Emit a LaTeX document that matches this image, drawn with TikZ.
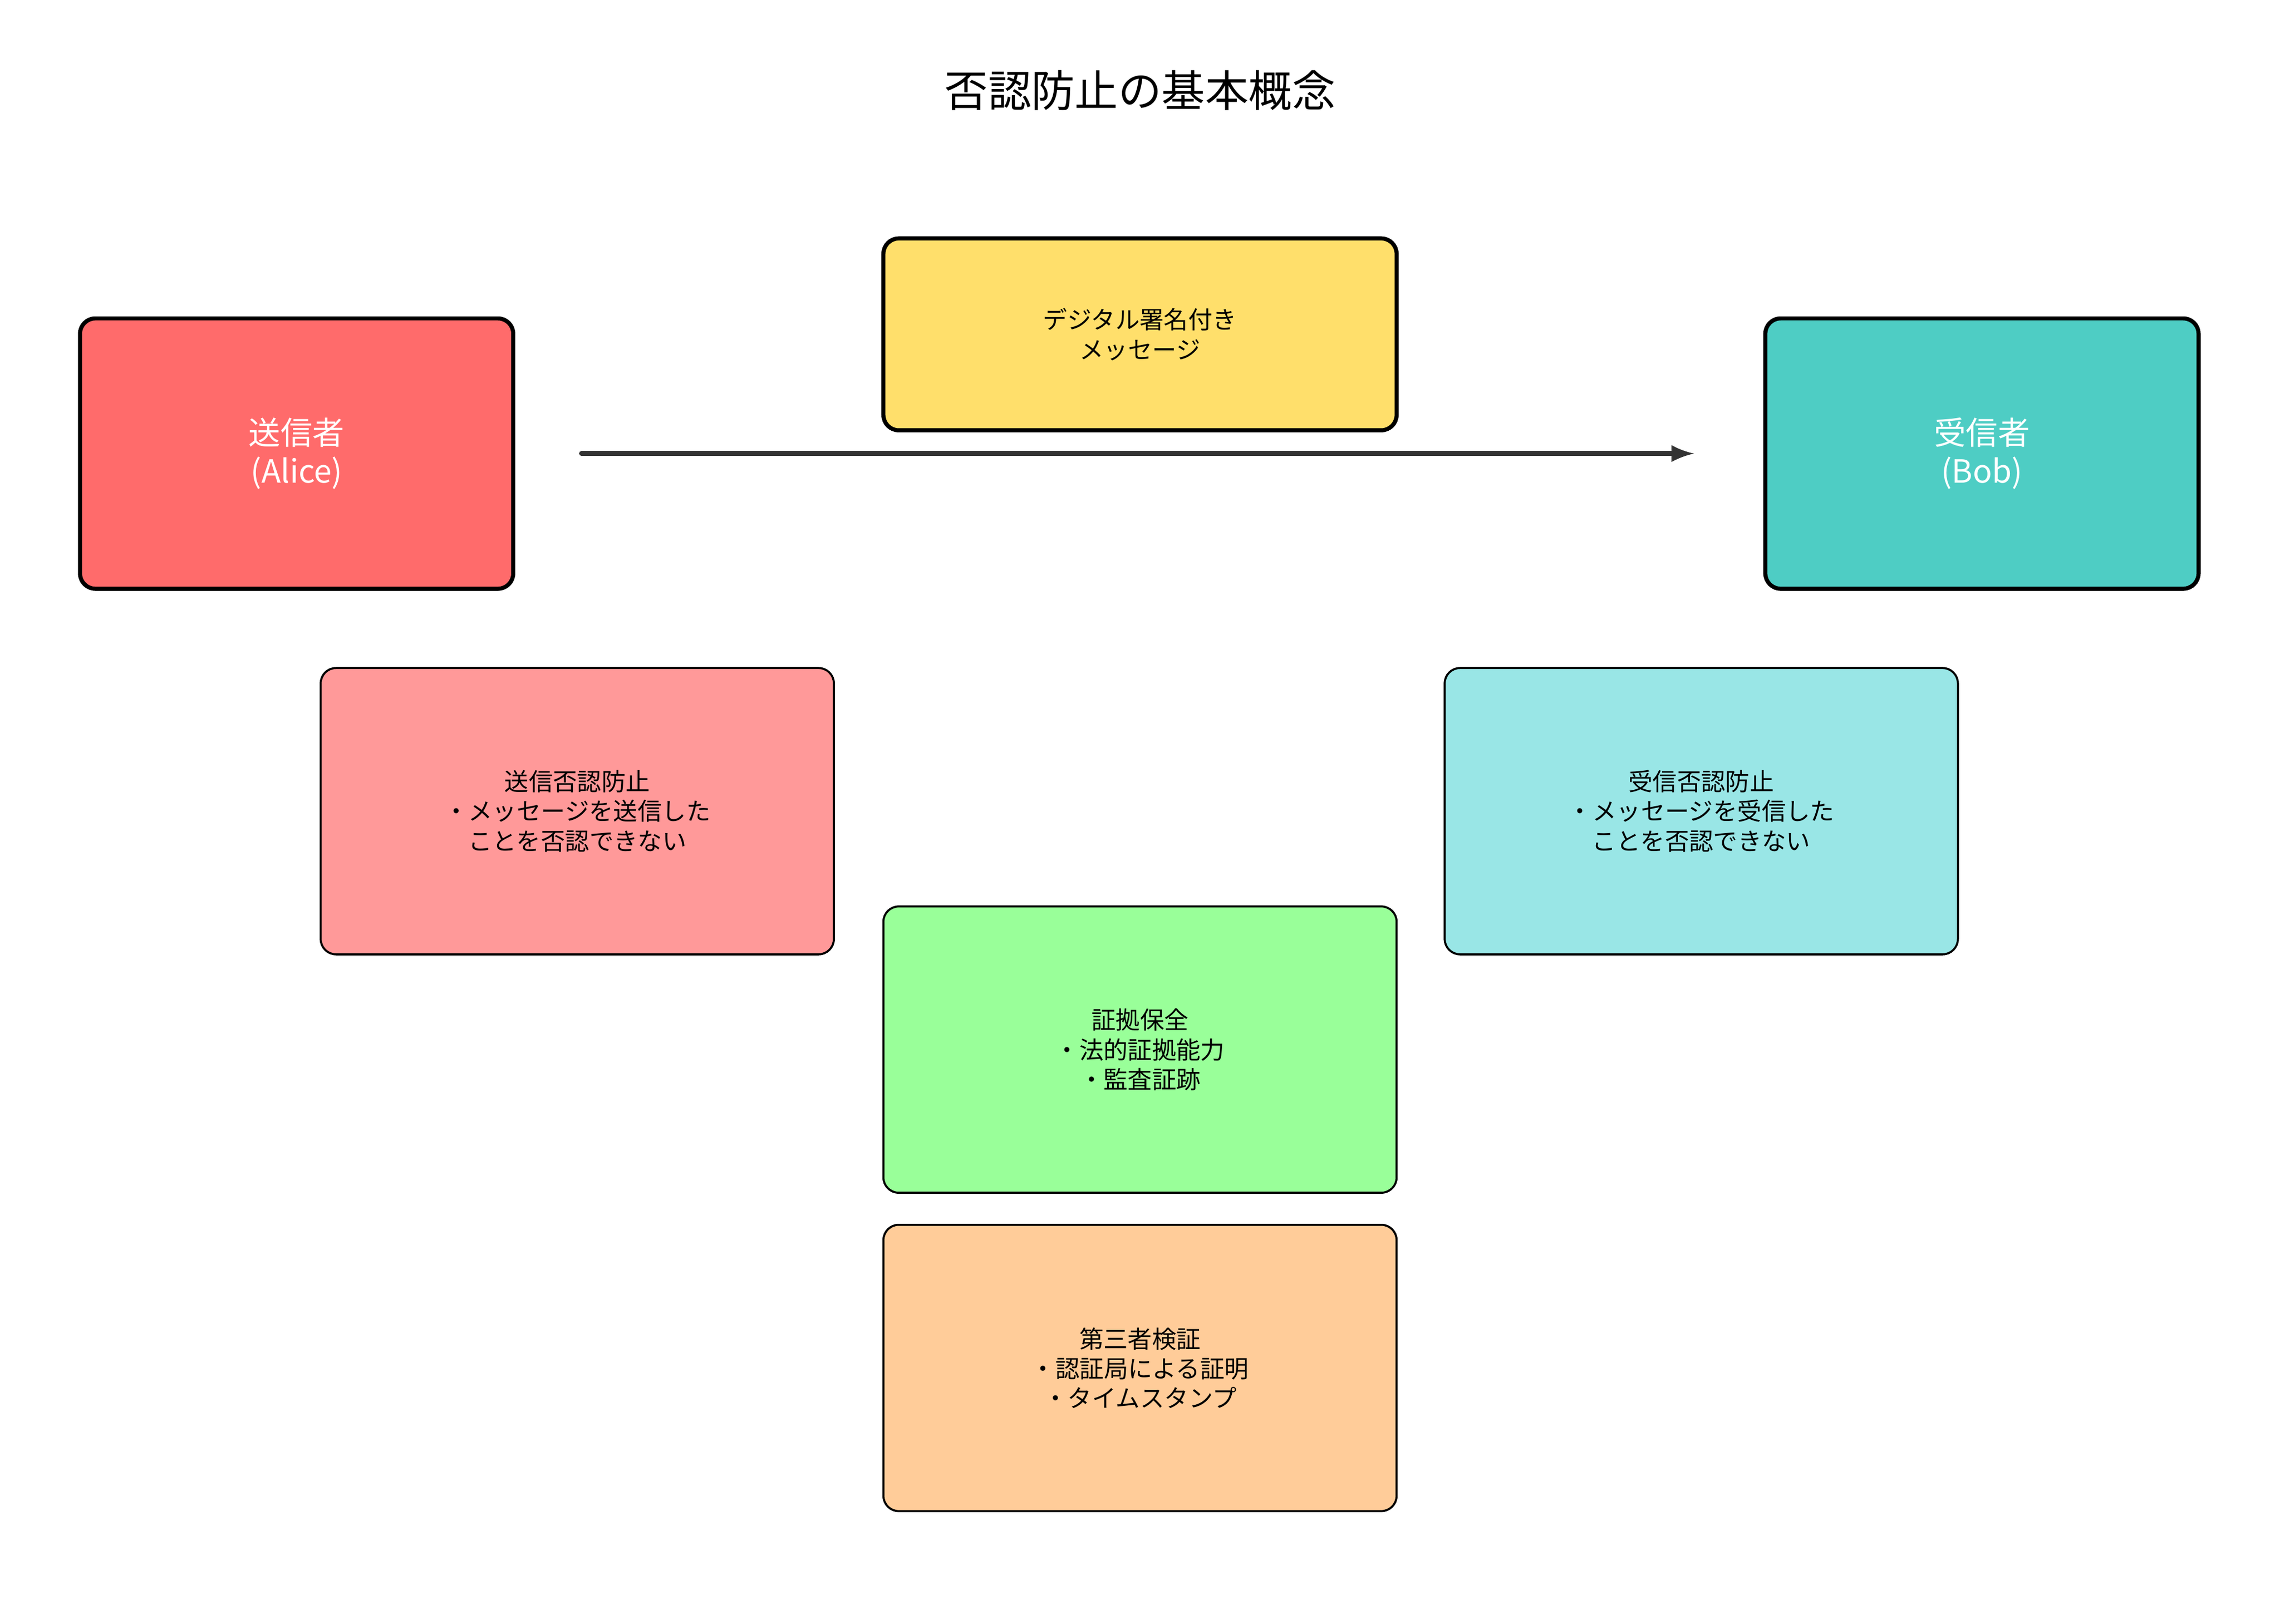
\documentclass[tikz,border=0pt]{standalone}
\usepackage{fontspec}
\setmainfont{Noto Sans CJK JP}
\begin{document}
\begin{tikzpicture}[x=0.02cm,y=-0.02cm,
  big/.style={draw=black,line width=1.6pt,rounded corners=6pt,minimum width=5.96cm,minimum height=3.72cm,text=white,font=\fontsize{12.5}{15}\selectfont,align=center},
  small/.style={draw=black,line width=0.8pt,rounded corners=6pt,minimum width=7.06cm,minimum height=3.94cm,font=\fontsize{9.5}{11.6}\selectfont,align=center}]
\useasboundingbox (0,0) rectangle (1568,1117);
\definecolor{cred}{HTML}{FF6B6B}\definecolor{cyel}{HTML}{FFDF6B}
\definecolor{cteal}{HTML}{4ECDC4}\definecolor{cpink}{HTML}{FF9999}
\definecolor{ccyan}{HTML}{99E6E6}\definecolor{cgreen}{HTML}{99FF99}
\definecolor{corange}{HTML}{FFCC99}
\node[font=\fontsize{17}{20}\selectfont] (title) at (784,62) {否認防止の基本概念};
\node[big,fill=cred] (alice) at (204,312) {送信者\\(Alice)};
\node[big,fill=cteal] (bob) at (1363,312) {受信者\\(Bob)};
\node[big,fill=cyel,text=black,minimum width=7.06cm,minimum height=2.64cm,font=\fontsize{9.5}{11.6}\selectfont] (msg) at (784,230) {デジタル署名付き\\メッセージ};
\coordinate (a1) at (400,312); \coordinate (a2) at (1165,312);
\draw[line width=2pt,color=black!80,-latex,line cap=round] (a1) -- (a2);
\node[small,fill=cpink] (snr) at (397,558) {送信否認防止\\・メッセージを送信した\\ことを否認できない};
\node[small,fill=ccyan] (rnr) at (1170,558) {受信否認防止\\・メッセージを受信した\\ことを否認できない};
\node[small,fill=cgreen] (ev) at (784,722) {証拠保全\\・法的証拠能力\\・監査証跡};
\node[small,fill=corange] (tp) at (784,941) {第三者検証\\・認証局による証明\\・タイムスタンプ};
\end{tikzpicture}
\end{document}
